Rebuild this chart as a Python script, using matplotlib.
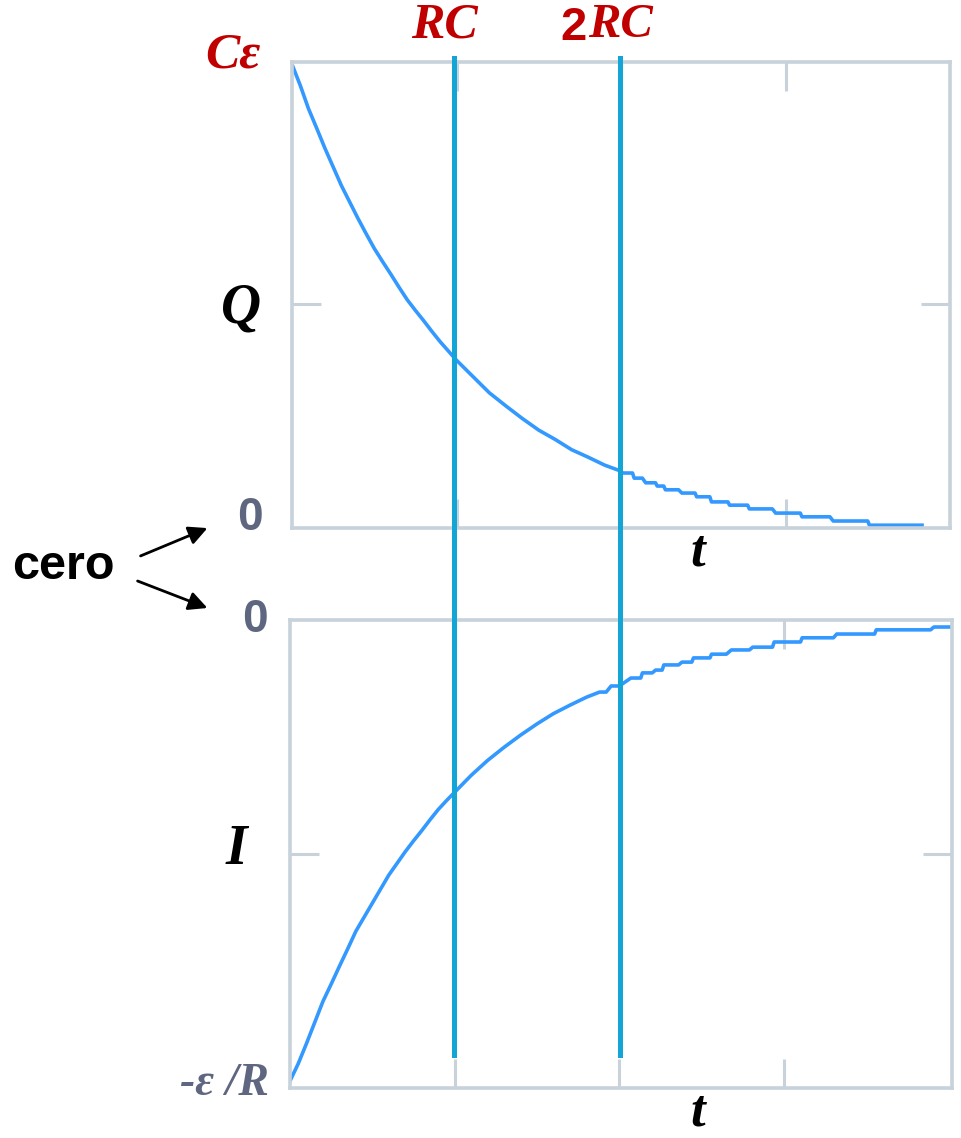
import matplotlib
matplotlib.use("Agg")
import matplotlib.pyplot as plt
from matplotlib.lines import Line2D
from matplotlib import transforms

# tiempo en unidades de RC
t_carga = [0.0, 0.05, 0.1, 0.15, 0.2, 0.25, 0.3, 0.35, 0.4, 0.45, 0.5, 0.55, 0.6,
           0.65, 0.7, 0.75, 0.8, 0.85, 0.9, 0.95, 1.0, 1.1, 1.2, 1.3,
           1.4, 1.5, 1.6, 1.7, 1.8, 1.9, 2.0,
           2.01, 2.07, 2.08, 2.13, 2.15, 2.21, 2.22, 2.26, 2.27, 2.35, 2.37, 2.45,
           2.46, 2.54, 2.55, 2.65, 2.66, 2.77, 2.78, 2.92, 2.94, 3.09, 3.10, 3.27,
           3.29, 3.50, 3.51, 3.83]
# carga Q en fraccion de C*eps
Q = [0.995, 0.95, 0.90, 0.858, 0.815, 0.775, 0.735, 0.70, 0.665, 0.632, 0.60,
     0.572, 0.545, 0.517, 0.49, 0.467, 0.445, 0.422, 0.40, 0.38, 0.36, 0.325,
     0.29, 0.262, 0.235, 0.21, 0.19, 0.168, 0.152, 0.135, 0.122,
     0.118, 0.118, 0.107, 0.107, 0.097, 0.097, 0.090, 0.090, 0.082, 0.082, 0.075,
     0.075, 0.067, 0.067, 0.056, 0.056, 0.049, 0.049, 0.041, 0.041, 0.032, 0.032,
     0.024, 0.024, 0.015, 0.015, 0.006, 0.006]

t_corr = [0.0, 0.05, 0.1, 0.15, 0.2, 0.25, 0.3, 0.35, 0.4, 0.45, 0.5, 0.55, 0.6,
          0.65, 0.7, 0.75, 0.8, 0.85, 0.9, 0.95, 1.0, 1.1, 1.2, 1.3,
          1.4, 1.5, 1.6, 1.7, 1.8,
          1.88, 1.92, 1.95, 2.00, 2.07, 2.13, 2.14, 2.20, 2.22, 2.26, 2.27, 2.36,
          2.38, 2.44, 2.45, 2.55, 2.56, 2.65, 2.68, 2.79, 2.81, 2.93, 2.94, 3.10,
          3.11, 3.30, 3.32, 3.55, 3.56, 3.89, 3.91, 4.02]
# corriente I en fraccion de eps/R
I = [-0.985, -0.948, -0.905, -0.86, -0.815, -0.778, -0.74, -0.703, -0.665, -0.635,
     -0.605, -0.575, -0.545, -0.52, -0.495, -0.472, -0.45, -0.427, -0.405, -0.386,
     -0.368, -0.332, -0.30, -0.272, -0.246, -0.222, -0.20, -0.182, -0.165,
     -0.154, -0.154, -0.141, -0.141, -0.124, -0.124, -0.113, -0.113, -0.107, -0.107,
     -0.096, -0.096, -0.090, -0.090, -0.081, -0.081, -0.073, -0.073, -0.064, -0.064,
     -0.058, -0.058, -0.047, -0.047, -0.038, -0.038, -0.030, -0.030, -0.021, -0.021,
     -0.015, -0.015]

marcas_t = [1, 2, 3]
lineas_rc = [0.985, 1.995]

W, H = 961, 1138
gris = "#c8d2da"
azul = "#3399ff"
cian = "#12a5d6"
rojo = "#c00000"
pizarra = "#5f6680"
serif = ["Liberation Serif", "DejaVu Serif"]
sans = ["Liberation Sans", "DejaVu Sans"]


def px(x, y):
    return x / W, 1 - y / H


def estilo(ax, ytick):
    for s in ax.spines.values():
        s.set_color(gris)
        s.set_linewidth(2.6)
    ax.set_xticks(marcas_t)
    ax.set_yticks([ytick])
    ax.tick_params(direction="in", length=21, width=2.2, color=gris,
                   top=True, right=True, labelbottom=False, labelleft=False)


fig = plt.figure(figsize=(W / 100, H / 100), dpi=100)

ax1 = fig.add_axes([292 / W, 1 - 528 / H, 658 / W, 466 / H])
ax1.plot(t_carga, Q, color=azul, lw=2.6)
ax1.set_xlim(0, 4)
ax1.set_ylim(0, 1)
estilo(ax1, 0.48)

ax2 = fig.add_axes([290 / W, 1 - 1088 / H, 662 / W, 468 / H])
ax2.plot(t_corr, I, color=azul, lw=2.6)
ax2.set_xlim(0, 4.02)
ax2.set_ylim(-1, 0)
estilo(ax2, -0.5)

# lineas verticales en RC y 2RC que cruzan ambas graficas
tr = transforms.blended_transform_factory(ax1.transData, fig.transFigure)
for x in lineas_rc:
    fig.add_artist(Line2D([x, x], [1 - 58 / H, 1 - 1055 / H], transform=tr,
                          color=cian, lw=3.6, zorder=5))

# textos
def texto(x, y, s, **kw):
    fig.text(*px(x, y), s, va="center", **kw)

texto(444, 25, "RC", ha="center", color=rojo, fontsize=36, family=serif,
      fontweight="bold", fontstyle="italic")
texto(587, 28, "2", ha="right", color=rojo, fontsize=34, family=sans,
      fontweight="bold")
texto(588, 25, "RC", ha="left", color=rojo, fontsize=35, family=serif,
      fontweight="bold", fontstyle="italic")
texto(233, 56, "Cε", ha="center", color=rojo, fontsize=37, family=serif,
      fontweight="bold", fontstyle="italic")
texto(241, 308, "Q", ha="center", color="black", fontsize=40, family=serif,
      fontweight="bold", fontstyle="italic")
texto(250, 518, "0", ha="center", color=pizarra, fontsize=33, family=sans,
      fontweight="bold")
texto(255, 620, "0", ha="center", color=pizarra, fontsize=33, family=sans,
      fontweight="bold")
texto(698, 553, "t", ha="center", color="black", fontsize=38, family=serif,
      fontweight="bold", fontstyle="italic")
texto(698, 1113, "t", ha="center", color="black", fontsize=38, family=serif,
      fontweight="bold", fontstyle="italic")
texto(236, 850, "I", ha="center", color="black", fontsize=40, family=serif,
      fontweight="bold", fontstyle="italic")
texto(224, 1084, "-ε /R", ha="center", color=pizarra, fontsize=33, family=serif,
      fontweight="bold", fontstyle="italic")
texto(63, 566, "cero", ha="center", color="black", fontsize=35, family=sans,
      fontweight="bold")

for ini, fin in [((138, 557), (210, 527)), ((135, 580), (210, 609))]:
    fig.add_artist(matplotlib.patches.FancyArrowPatch(
        px(*ini), px(*fin), transform=fig.transFigure, arrowstyle="-|>",
        mutation_scale=28, lw=2, color="black"))

fig.savefig("out.png", dpi=100)
